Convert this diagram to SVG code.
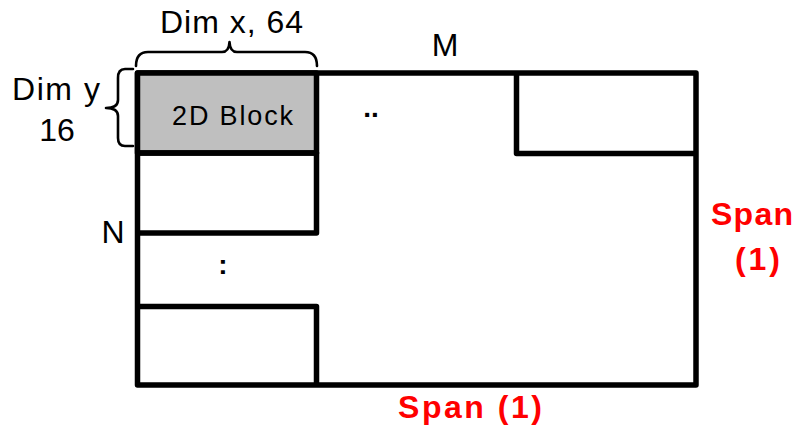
<svg xmlns="http://www.w3.org/2000/svg" width="796" height="431" viewBox="0 0 796 431">
  <style>
    .lbl { font-family: "Liberation Sans", Arial, sans-serif; fill: #000; font-size: 32px; }
    .dots { font-family: "Liberation Sans", Arial, sans-serif; fill: #000; font-size: 28px; font-weight: bold; }
    .span { font-family: "Liberation Sans", Arial, sans-serif; font-weight: bold; fill: #ff0000; font-size: 32px; }
    .box { fill: none; stroke: #000; stroke-width: 5.5; stroke-linejoin: round; }
    .brace { fill: none; stroke: #000; stroke-width: 2.6; stroke-linecap: round; stroke-linejoin: round; }
  </style>
  <rect width="796" height="431" fill="#fff"/>

  <!-- whole matrix -->
  <g id="matrix">
    <rect class="box" x="137.5" y="73" width="558.5" height="312"/>
  </g>

  <!-- tiled blocks -->
  <g id="block-2d">
    <rect x="137.5" y="73" width="179" height="80" fill="#bfbfbf" stroke="#000" stroke-width="5.5" stroke-linejoin="round"/>
    <text class="lbl" x="172" y="125" style="font-size:27px" textLength="121">2D Block</text>
  </g>
  <g id="block-col-2">
    <path class="box" d="M137.5 153 H316.5 V233 H137.5"/>
  </g>
  <g id="block-col-last">
    <path class="box" d="M137.5 306.5 H316.5 V385"/>
  </g>
  <g id="block-row-last">
    <path class="box" d="M516.5 73 V153.5 H696"/>
  </g>

  <!-- dimension braces -->
  <g id="connectors">
    <path class="brace" d="M136 66 Q136 52 148 52 H222 Q229 52 229.5 42 Q230 52 237 52 H305 Q317 52 317 66"/>
    <path class="brace" d="M133 69 H125 Q118 69 118 78 V100 Q118 108 106 108 Q118 108 118 116 V138 Q118 146 125 146 H133"/>
  </g>

  <!-- labels -->
  <g id="labels">
    <text class="lbl" x="160" y="33" textLength="143">Dim x, 64</text>
    <text class="lbl" x="12" y="100" textLength="88">Dim y</text>
    <text class="lbl" x="57" y="141" text-anchor="middle">16</text>
    <text class="lbl" x="445" y="56" text-anchor="middle">M</text>
    <text class="lbl" x="113" y="243" text-anchor="middle">N</text>
    <text class="dots" x="371" y="117" text-anchor="middle">..</text>
    <text class="dots" x="223" y="274" text-anchor="middle">:</text>
    <text class="span" x="711" y="225" textLength="82">Span</text>
    <text class="span" x="735" y="270" textLength="45">(1)</text>
    <text class="span" x="398" y="418" textLength="144">Span (1)</text>
  </g>
</svg>
